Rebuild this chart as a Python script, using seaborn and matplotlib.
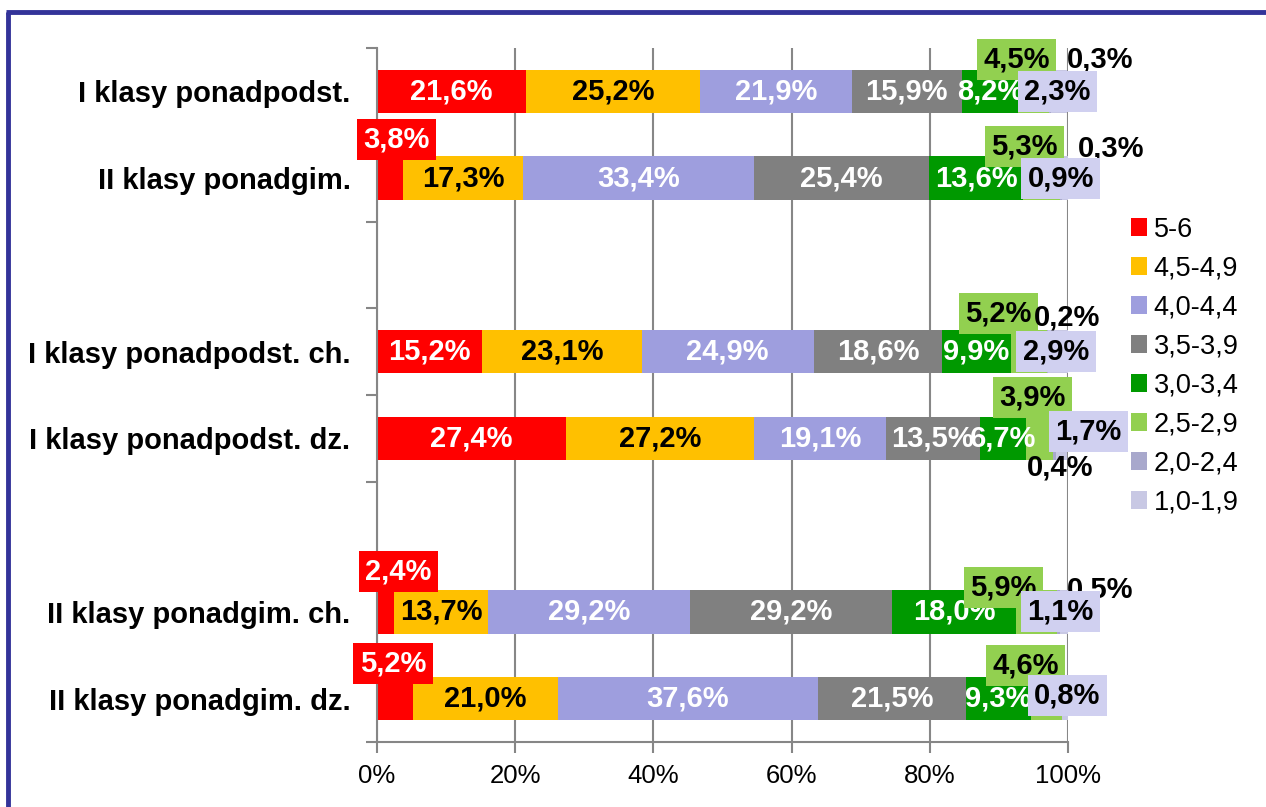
import matplotlib
matplotlib.use('Agg')
import matplotlib.pyplot as plt
from matplotlib.lines import Line2D
from matplotlib.patches import Patch
import seaborn as sns
import pandas as pd
import numpy as np

# Kategorie (puste wiersze jako odstępy)
kategorie = ['I klasy ponadpodst.', 'II klasy ponadgim.', ' ',
             'I klasy ponadpodst. ch.', 'I klasy ponadpodst. dz.', '  ',
             'II klasy ponadgim. ch.', 'II klasy ponadgim. dz.']
wiersze = ['I klasy ponadpodst.', 'II klasy ponadgim.',
           'I klasy ponadpodst. ch.', 'I klasy ponadpodst. dz.',
           'II klasy ponadgim. ch.', 'II klasy ponadgim. dz.']

przedzialy = ['5-6', '4,5-4,9', '4,0-4,4', '3,5-3,9', '3,0-3,4', '2,5-2,9', '2,0-2,4', '1,0-1,9']

# Udziały procentowe (kolejność jak w wierszach)
s_5_6 = [21.6, 3.8, 15.2, 27.4, 2.4, 5.2]
s_45_49 = [25.2, 17.3, 23.1, 27.2, 13.7, 21.0]
s_40_44 = [21.9, 33.4, 24.9, 19.1, 29.2, 37.6]
s_35_39 = [15.9, 25.4, 18.6, 13.5, 29.2, 21.5]
s_30_34 = [8.2, 13.6, 9.9, 6.7, 18.0, 9.3]
s_25_29 = [4.5, 5.3, 5.2, 3.9, 5.9, 4.6]
s_20_24 = [0.3, 0.3, 0.2, 0.4, 0.5, 0.0]
s_10_19 = [2.3, 0.9, 2.9, 1.7, 1.1, 0.8]

kolory = ['#FF0000', '#FFC000', '#9E9EDE', '#808080', '#009900', '#92D050', '#A8A8CC', '#C8C8E4']
kolory_tekstu = ['white', 'black', 'white', 'white', 'white', 'black', 'black', 'black']
# tło etykiet (None = brak)
tla_etykiet = ['#FF0000', None, None, None, None, '#92D050', None, '#D0D0F0']

# przesunięcia etykiet małych segmentów w pikselach (dx, dy; dy w górę)
przesuniecia = {
    (0, 5): (-17, 32), (0, 6): (50, 32), (0, 7): (-2, 0),
    (1, 0): (6, 39), (1, 5): (-17, 32), (1, 6): (50, 30), (1, 7): (-4, 0),
    (2, 5): (-30, 38), (2, 6): (20, 34), (2, 7): (-2, 0),
    (3, 5): (-7, 41), (3, 6): (6, -29), (3, 7): (27, 7),
    (4, 0): (13, 40), (4, 5): (-33, 24), (4, 6): (41, 22), (4, 7): (-4, 0),
    (5, 0): (-2, 35), (5, 5): (-21, 33), (5, 7): (2, 3),
}

serie = [s_5_6, s_45_49, s_40_44, s_35_39, s_30_34, s_25_29, s_20_24, s_10_19]
wartosci = np.array(serie).T
skumulowane = np.cumsum(wartosci, axis=1)

plt.rcParams['font.family'] = ['Liberation Sans', 'DejaVu Sans']

fig = plt.figure(figsize=(12.66, 8.07), dpi=100)
ax = fig.add_axes([377 / 1266, 1 - 742 / 807, (1068 - 377) / 1266, (742 - 48) / 807])

# siatka pionowa pod słupkami
ax.set_axisbelow(True)
ax.grid(axis='x', color='#878787', linewidth=1.5)

# słupki skumulowane - rysowane od najdłuższego
for j in range(len(przedzialy) - 1, -1, -1):
    df = pd.DataFrame({'kategoria': wiersze, 'suma': skumulowane[:, j]})
    sns.barplot(data=df, x='suma', y='kategoria', order=kategorie, orient='h',
                color=kolory[j], saturation=1, width=0.5, errorbar=None,
                linewidth=0, ax=ax)

ax.set_xlim(0, 100)
ax.set_ylim(7.5, -0.5)
ax.set_xlabel('')
ax.set_ylabel('')

ax.set_xticks(range(0, 101, 20))
ax.set_xticklabels([f'{t}%' for t in range(0, 101, 20)], fontsize=18.5)
ax.tick_params(axis='x', length=8, width=1.5, color='#868686', pad=8)

ax.set_yticks(range(len(kategorie)))
ax.set_yticklabels(kategorie, fontsize=21, fontweight='bold')
ax.set_yticks(np.arange(-0.5, len(kategorie)), minor=True)
ax.tick_params(axis='y', which='major', length=0, pad=19)
ax.tick_params(axis='y', which='minor', length=8, width=1.5, color='#868686')

for s in ['top', 'right']:
    ax.spines[s].set_visible(False)
for s in ['left', 'bottom']:
    ax.spines[s].set_color('#868686')
    ax.spines[s].set_linewidth(1.5)

# etykiety wartości
for i, nazwa in enumerate(wiersze):
    y = kategorie.index(nazwa)
    for j in range(len(przedzialy)):
        v = wartosci[i, j]
        if v <= 0:
            continue
        x = skumulowane[i, j] - v / 2
        dx, dy = przesuniecia.get((i, j), (0, 0))
        tlo = tla_etykiet[j]
        bbox = dict(boxstyle='square,pad=0.22', fc=tlo, ec='none') if tlo else None
        ax.annotate(f'{v:.1f}%'.replace('.', ','), (x, y), xytext=(dx, dy),
                    textcoords='offset pixels', ha='center', va='center',
                    fontsize=21, fontweight='bold', color=kolory_tekstu[j],
                    bbox=bbox, zorder=5 + j, annotation_clip=False)

# legenda
uchwyty = [Patch(facecolor=c, edgecolor='none') for c in kolory]
fig.legend(uchwyty, przedzialy, loc='upper left', bbox_to_anchor=(1117 / 1266, 1 - 203 / 807),
           frameon=False, fontsize=19.5, handlelength=0.6, handleheight=0.6,
           handletextpad=0.25, labelspacing=0.48, borderpad=0)

# ramka
ramka = '#333399'
fig.add_artist(Line2D([8 / 1266, 8 / 1266], [0, 1 - 12 / 807], color=ramka, linewidth=3.5,
                      transform=fig.transFigure, solid_capstyle='butt'))
fig.add_artist(Line2D([6 / 1266, 1], [1 - 12 / 807, 1 - 12 / 807], color=ramka, linewidth=3.5,
                      transform=fig.transFigure, solid_capstyle='butt'))

fig.savefig('out.png', dpi=100)
